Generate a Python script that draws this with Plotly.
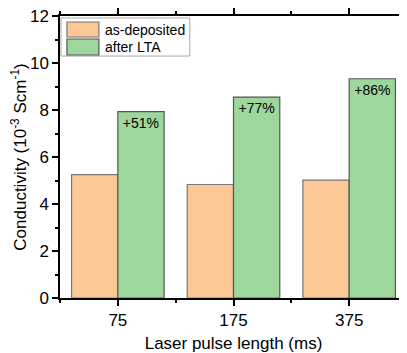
import plotly.graph_objects as go

categories = ["75", "175", "375"]
as_deposited = [5.25, 4.83, 5.02]
after_lta = [7.93, 8.55, 9.33]
increase_labels = ["+51%", "+77%", "+86%"]
series_names = ["as-deposited", "after LTA"]
y_ticks = [0, 2, 4, 6, 8, 10, 12]

colors = ["#FBC896", "#9ED79C"]
edges = ["#777777", "#555555"]

xpos = list(range(len(categories)))
font_family = "Liberation Sans, Arial, sans-serif"

fig = go.Figure()
fig.add_trace(go.Bar(
    x=xpos, y=as_deposited, name=series_names[0], showlegend=False,
    marker=dict(color=colors[0], line=dict(color=edges[0], width=1.2)),
))
fig.add_trace(go.Bar(
    x=xpos, y=after_lta, name=series_names[1], showlegend=False,
    marker=dict(color=colors[1], line=dict(color=edges[1], width=1.2)),
    text=increase_labels, textposition="inside", insidetextanchor="end",
    textfont=dict(size=14, color="black", family=font_family),
    textangle=0,
))

# legend box drawn in paper coordinates
fig.add_shape(type="rect", xref="paper", yref="paper", x0=0.003, x1=0.374, y0=0.858, y1=0.993,
              line=dict(color="#AAAAAA", width=1), fillcolor="white", layer="above")
swatch_rows = [(0.9787, 0.9255, 0.9504), (0.9184, 0.8617, 0.8901)]
for (top, bot, mid), name, col, edge in zip(swatch_rows, series_names, colors, edges):
    fig.add_shape(type="rect", xref="paper", yref="paper", x0=0.020, x1=0.112, y0=bot, y1=top,
                  line=dict(color=edge, width=1.2), fillcolor=col, layer="above")
    fig.add_annotation(xref="paper", yref="paper", x=0.124, y=mid, text=name, showarrow=False,
                       xanchor="left", yanchor="middle", font=dict(size=14, color="black"))

fig.update_layout(
    width=399, height=345,
    margin=dict(l=52, r=0, t=8, b=55),
    barmode="group", bargap=0.2, bargroupgap=0,
    plot_bgcolor="white", paper_bgcolor="white",
    font=dict(family=font_family, size=17, color="black"),
    showlegend=False,
    xaxis=dict(
        range=[-0.5, 2.5],
        tickvals=xpos, ticktext=categories,
        showline=True, linecolor="black", linewidth=1.5,
        mirror="ticks", ticks="outside", ticklen=6, tickwidth=1.5, tickcolor="black",
        minor=dict(dtick=0.5, tick0=0, ticks="outside", ticklen=3, tickwidth=1.5, tickcolor="black"),
        showgrid=False, zeroline=False,
        title=dict(text="Laser pulse length (ms)", standoff=8, font=dict(size=17)),
    ),
    yaxis=dict(
        range=[0, 12], tickvals=y_ticks, ticklabeloverflow="allow",
        showline=True, linecolor="black", linewidth=1.5,
        ticks="outside", ticklen=6, tickwidth=1.5, tickcolor="black",
        minor=dict(dtick=1, ticks="outside", ticklen=3, tickwidth=1.5, tickcolor="black"),
        showgrid=False, zeroline=False,
        title=dict(text="Conductivity (10<sup>-3</sup> Scm<sup>-1</sup>)", standoff=4, font=dict(size=17)),
    ),
)

fig.write_html("out.html")
